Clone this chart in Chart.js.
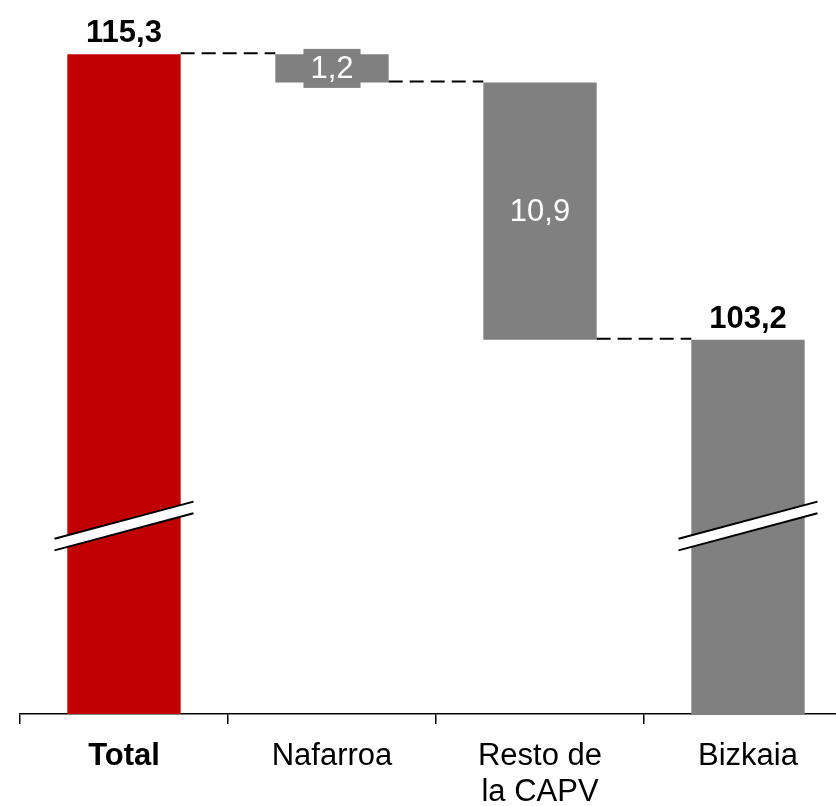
<!DOCTYPE html>
<html lang="es">
<head>
    <meta charset="UTF-8">
    <title>Total - Nafarroa - Resto de la CAPV - Bizkaia</title>
    <script src="https://cdn.jsdelivr.net/npm/chart.js"></script>
    <style>
        html, body { margin: 0; padding: 0; overflow: hidden; background: #fff; }
        canvas { display: block; }
    </style>
</head>
<body>
    <canvas id="chart" width="872" height="806"></canvas>

    <script>
        // Data
        const categories = ["Total", "Nafarroa", ["Resto de", "la CAPV"], "Bizkaia"];
        const amounts = [115.3, 1.2, 10.9, 103.2];
        const kinds = ["total", "step", "step", "total"];
        const barColors = ["#C00000", "#808080", "#808080", "#808080"];

        // Broken value axis: only the top part is shown
        const axisMin = 87.33;
        const axisMax = 117.6;
        const breakAt = 95.3;

        const FONT = "'Liberation Sans', Arial, Helvetica, sans-serif";

        // Floating ranges for the waterfall
        const ranges = [];
        let level = 0;
        amounts.forEach((v, i) => {
            if (kinds[i] === "total") {
                ranges.push([0, v]);
                level = v;
            } else {
                ranges.push([level - v, level]);
                level = level - v;
            }
        });

        const fmt = v => v.toFixed(1).replace(".", ",");

        const waterfallDecor = {
            id: "waterfallDecor",
            afterDatasetsDraw(chart) {
                const ctx = chart.ctx;
                const meta = chart.getDatasetMeta(0);
                const yScale = chart.scales.y;

                ctx.save();

                // dashed connectors between bars
                ctx.setLineDash([14, 7]);
                ctx.lineWidth = 2;
                ctx.strokeStyle = "#000";
                for (let i = 0; i < meta.data.length - 1; i++) {
                    const a = meta.data[i];
                    const b = meta.data[i + 1];
                    const lvl = kinds[i] === "total" ? ranges[i][1] : ranges[i][0];
                    const py = yScale.getPixelForValue(lvl) - 1;
                    ctx.beginPath();
                    ctx.moveTo(a.x + a.width / 2, py);
                    ctx.lineTo(b.x - b.width / 2, py);
                    ctx.stroke();
                }
                ctx.setLineDash([]);

                // axis break marks on the total bars
                kinds.forEach((k, i) => {
                    if (k !== "total") return;
                    const bar = meta.data[i];
                    const cy = yScale.getPixelForValue(breakAt);
                    const h = 69.5, rise = 18.6, gap = 5.8;
                    ctx.fillStyle = "#fff";
                    ctx.beginPath();
                    ctx.moveTo(bar.x - h, cy + rise - gap);
                    ctx.lineTo(bar.x + h, cy - rise - gap);
                    ctx.lineTo(bar.x + h, cy - rise + gap);
                    ctx.lineTo(bar.x - h, cy + rise + gap);
                    ctx.closePath();
                    ctx.fill();
                    ctx.lineWidth = 2;
                    ctx.strokeStyle = "#000";
                    [-gap, gap].forEach(off => {
                        ctx.beginPath();
                        ctx.moveTo(bar.x - h, cy + rise + off);
                        ctx.lineTo(bar.x + h, cy - rise + off);
                        ctx.stroke();
                    });
                });

                // value labels
                ctx.textAlign = "center";
                meta.data.forEach((bar, i) => {
                    const text = fmt(amounts[i]);
                    if (kinds[i] === "total") {
                        ctx.font = "bold 31px " + FONT;
                        ctx.fillStyle = "#000";
                        ctx.textBaseline = "alphabetic";
                        ctx.fillText(text, bar.x, bar.y - 12);
                    } else {
                        ctx.font = "31px " + FONT;
                        const cy = (bar.y + bar.base) / 2;
                        const h = Math.abs(bar.base - bar.y);
                        if (h < 40) {
                            const w = ctx.measureText(text).width + 14;
                            ctx.fillStyle = barColors[i];
                            ctx.fillRect(bar.x - w / 2, cy - 19.5, w, 39);
                        }
                        ctx.fillStyle = "#fff";
                        ctx.textBaseline = "middle";
                        ctx.fillText(text, bar.x, cy + 1);
                    }
                });

                ctx.restore();
            }
        };

        new Chart(document.getElementById("chart"), {
            type: "bar",
            data: {
                labels: categories,
                datasets: [{
                    data: ranges,
                    backgroundColor: barColors,
                    borderWidth: 0,
                    categoryPercentage: 1,
                    barPercentage: 0.545
                }]
            },
            options: {
                responsive: false,
                animation: false,
                layout: { padding: { left: 20, right: 20, top: 0, bottom: 0 } },
                plugins: {
                    legend: { display: false },
                    tooltip: { enabled: false }
                },
                scales: {
                    x: {
                        grid: {
                            display: true,
                            drawOnChartArea: false,
                            drawTicks: true,
                            tickLength: 10,
                            color: "#000",
                            lineWidth: 1.5,
                            offset: true
                        },
                        border: { display: true, color: "#000", width: 1.5 },
                        ticks: {
                            color: "#000",
                            padding: 14,
                            maxRotation: 0,
                            autoSkip: false,
                            font: ctx => ({
                                family: FONT,
                                size: 31,
                                weight: ctx.index === 0 ? "bold" : "normal",
                                lineHeight: "36px"
                            })
                        },
                        afterFit: s => { s.height = 92; }
                    },
                    y: {
                        display: false,
                        min: axisMin,
                        max: axisMax
                    }
                }
            },
            plugins: [waterfallDecor]
        });
    </script>
</body>
</html>
